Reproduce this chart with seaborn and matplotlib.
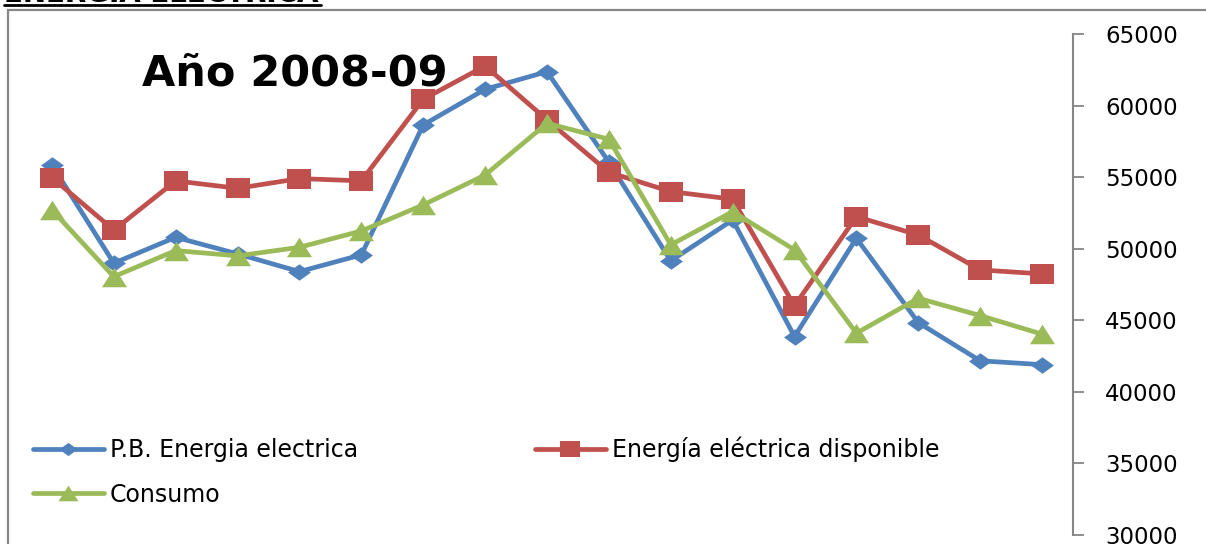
import numpy as np
import pandas as pd
import matplotlib
matplotlib.use("Agg")
import matplotlib.pyplot as plt
from matplotlib.path import Path
from matplotlib.patches import Rectangle
from matplotlib.lines import Line2D
import seaborn as sns

# ---- data ----
periodos = list(range(17))
series_names = ["P.B. Energia electrica", "Energía eléctrica disponible", "Consumo"]
pb_energia = [55850, 48990, 50800, 49640, 48400, 49570, 58650, 61140, 62370,
              56050, 49150, 52010, 43860, 50730, 44840, 42170, 41900]
energia_disp = [54970, 51300, 54740, 54220, 54900, 54740, 60440, 62770, 59000,
                55340, 53990, 53460, 46010, 52240, 50960, 48520, 48240]
consumo = [52710, 48050, 49870, 49500, 50100, 51240, 53060, 55150, 58760,
           57650, 50270, 52590, 49920, 44100, 46540, 45330, 44030]
y_ticks = [30000, 35000, 40000, 45000, 50000, 55000, 60000, 65000]
titulo = "Año 2008-09"
encabezado = "ENERGIA ELECTRICA"

colors = ["#4F81BD", "#C0504D", "#9BBB59"]

# custom (slightly wide) markers, like the stretched Excel markers
diamond = Path([(0, -0.72), (1, 0), (0, 0.72), (-1, 0), (0, -0.72)],
               [Path.MOVETO, Path.LINETO, Path.LINETO, Path.LINETO, Path.CLOSEPOLY])
square = Path([(-1, -0.8), (1, -0.8), (1, 0.8), (-1, 0.8), (-1, -0.8)],
              [Path.MOVETO, Path.LINETO, Path.LINETO, Path.LINETO, Path.CLOSEPOLY])
triangle = Path([(0, 0.78), (1, -0.78), (-1, -0.78), (0, 0.78)],
                [Path.MOVETO, Path.LINETO, Path.LINETO, Path.CLOSEPOLY])
markers = [diamond, square, triangle]
msizes = [16.5, 17.3, 18.0]

sns.set_style("white")
plt.rcParams["font.family"] = ["DejaVu Sans"]

W, H = 1206, 544
fig = plt.figure(figsize=(W / 100, H / 100), dpi=100)
left, right, top, bottom = 21, 1073, 34, 535
ax = fig.add_axes([left / W, 1 - bottom / H, (right - left) / W, (bottom - top) / H])

df = pd.DataFrame({
    "periodo": periodos * 3,
    "valor": pb_energia + energia_disp + consumo,
    "serie": [series_names[0]] * 17 + [series_names[1]] * 17 + [series_names[2]] * 17,
})

for i, name in enumerate(series_names):
    sub = df[df["serie"] == name]
    sns.lineplot(data=sub, x="periodo", y="valor", ax=ax, color=colors[i],
                 linewidth=3.4, marker=markers[i], markersize=msizes[i],
                 markeredgewidth=0, markerfacecolor=colors[i], label=name,
                 zorder=3 + i, legend=False)

ax.set_xlim(-0.5, 16.5)
ax.set_ylim(30000, 65000)
ax.set_xticks([])
ax.set_xlabel("")
ax.set_ylabel("")
ax.yaxis.tick_right()
ax.set_yticks(y_ticks)
ax.set_yticklabels([str(v) for v in y_ticks])
ax.tick_params(axis="y", direction="out", length=8, width=1.3, color="#868686",
               labelsize=16.5, pad=15, labelcolor="black", right=True, left=False)
for s in ["left", "top", "bottom"]:
    ax.spines[s].set_visible(False)
ax.spines["right"].set_color("#868686")
ax.spines["right"].set_linewidth(1.5)
ax.set_facecolor("none")

# legend (row-major order: PB, Disponible / Consumo)
handles = {series_names[i]: Line2D([0], [0], color=colors[i], lw=3.4, marker=markers[i],
                                   markersize=msizes[i] * 0.8, markeredgewidth=0)
           for i in range(3)}
order = [series_names[0], series_names[2], series_names[1]]
leg = ax.legend([handles[n] for n in order], order, ncol=2, loc="upper left",
                bbox_to_anchor=(33 / W, 1 - 437 / H), bbox_transform=fig.transFigure,
                frameon=False, fontsize=17, handlelength=3.0, handletextpad=0.25,
                columnspacing=7.5, labelspacing=0.85, borderpad=0, borderaxespad=0)
for t in leg.get_texts():
    t.set_color("black")

# title inside plot
fig.text(142 / W, 1 - 85 / H, titulo, fontsize=31, fontweight="bold",
         va="baseline", ha="left", color="black")

# cropped heading at very top with underline
fig.text(4 / W, 1 - 1.5 / H, encabezado, fontsize=20, fontweight="bold",
         va="baseline", ha="left", color="black")
fig.add_artist(Line2D([4 / W, 321 / W], [1 - 5 / H, 1 - 5 / H],
                      transform=fig.transFigure, color="black", lw=2.0))

# outer chart frame (partly cropped)
fig.add_artist(Rectangle((7.5 / W, -0.1), 1.2, 1 - 9.5 / H + 0.1,
                         transform=fig.transFigure, fill=False,
                         edgecolor="#878787", linewidth=1.6, clip_on=False))

fig.savefig("out.png", dpi=100)
